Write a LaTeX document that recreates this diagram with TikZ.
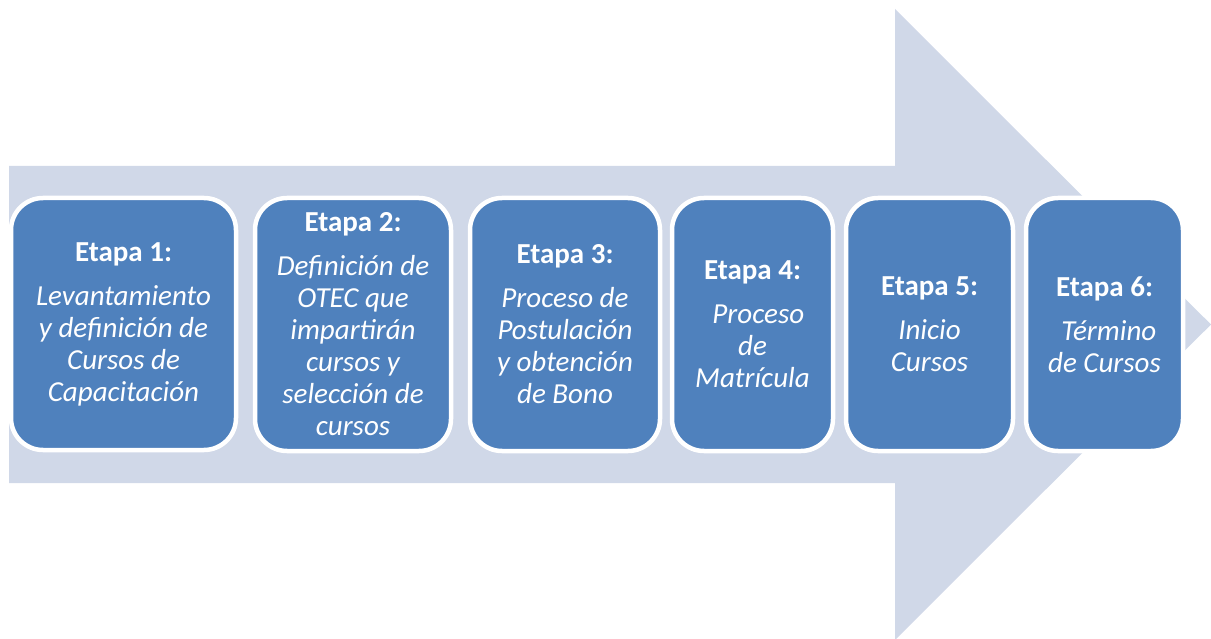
\documentclass[tikz,border=0pt]{standalone}
\usepackage{fontspec}
\setmainfont{Carlito}
\definecolor{arrowfill}{HTML}{D0D8E8}
\definecolor{boxfill}{HTML}{4F81BD}
\tikzset{
  etapa/.style={draw=white, line width=4.5pt, fill=boxfill, rounded corners=32pt,
    text=white, align=center, inner sep=0pt,
    font=\fontsize{29}{32}\selectfont},
}
\begin{document}
\begin{tikzpicture}[x=1pt,y=-1pt]
\useasboundingbox (0,0) rectangle (1211,639);
\fill[arrowfill] (9,166) -- (895,166) -- (895,9) -- (1211,324.5) -- (895,640) -- (895,483) -- (9,483) -- cycle;
\node[etapa, minimum width=225pt, minimum height=252pt] (e1) at (123.5,324)
  {\textbf{Etapa 1:}\\[12pt]\itshape Levantamiento\\\itshape y definición de\\\itshape Cursos de\\\itshape Capacitación};
\node[etapa, minimum width=196pt, minimum height=253pt] (e2) at (353,324.5)
  {\textbf{Etapa 2:}\\[12pt]\itshape Definición de\\\itshape OTEC que\\\itshape impartirán\\\itshape cursos y\\\itshape selección de\\\itshape cursos};
\node[etapa, minimum width=190pt, minimum height=253pt] (e3) at (565,324.5)
  {\textbf{Etapa 3:}\\[12pt]\itshape Proceso de\\\itshape Postulación\\\itshape y obtención\\\itshape de Bono};
\node[etapa, minimum width=161pt, minimum height=253pt] (e4) at (752.5,324.5)
  {\textbf{Etapa 4:}\\[12pt]\itshape\hspace*{0.4em}Proceso\\\itshape de\\\itshape Matrícula};
\node[etapa, minimum width=167pt, minimum height=253pt] (e5) at (929.5,324.5)
  {\textbf{Etapa 5:}\\[12pt]\itshape Inicio\\\itshape Cursos};
\node[etapa, minimum width=157pt, minimum height=253pt] (e6) at (1104.5,324.5)
  {\textbf{Etapa 6:}\\[12pt]\itshape\hspace*{0.3em}Término\\\itshape de Cursos};
\end{tikzpicture}
\end{document}
